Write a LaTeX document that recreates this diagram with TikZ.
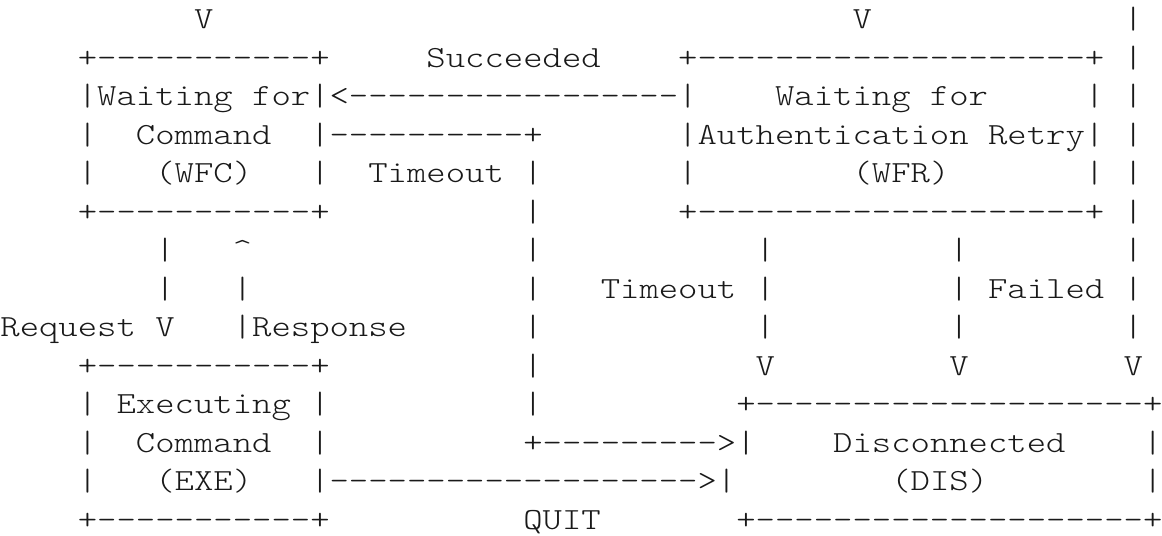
\documentclass[tikz,border=0pt]{standalone}
\usepackage{fontspec}
\usepackage{graphicx}
\usepackage{tikz}

\newfontfamily\asciilight{lmmonolt10-regular.otf}
\newcommand{\asciifont}{\fontsize{15.38pt}{18pt}\asciilight\selectfont}

\begin{document}
\begin{tikzpicture}[x=9.69pt, y=-19.25pt]
\tikzstyle{ascii} = [anchor=base west, inner sep=0pt, yshift=-14.5pt, text=black!90, font=\asciifont]
\useasboundingbox (0,0) rectangle (60,13.906);
  % rows of the state chart, one node per piece of text: row/column/text
  \foreach \r/\c/\t in {
      0/10/V, 0/44/V, 0/58/|,
      1/4/+-----------+, 1/22/Succeeded, 1/35/+--------------------+, 1/58/|,
      2/4/|Waiting for|<-----------------|, 2/40/Waiting for, 2/56/|, 2/58/|,
      3/4/|, 3/7/Command, 3/16/|----------+, 3/35/|Authentication Retry|, 3/58/|,
      4/4/|, 4/8/{(WFC)}, 4/16/|, 4/19/Timeout, 4/27/|, 4/35/|, 4/44/{(WFR)}, 4/56/|, 4/58/|,
      5/4/+-----------+, 5/27/|, 5/35/+--------------------+, 5/58/|,
      6/8/|, 6/12/\textasciicircum, 6/27/|, 6/39/|, 6/49/|, 6/58/|,
      7/8/|, 7/12/|, 7/27/|, 7/31/Timeout, 7/39/|, 7/49/|, 7/51/Failed, 7/58/|,
      8/0/Request, 8/8/V, 8/12/|Response, 8/27/|, 8/39/|, 8/49/|, 8/58/|,
      9/4/+-----------+, 9/27/|, 9/39/V, 9/49/V, 9/58/V,
      10/4/|, 10/6/Executing, 10/16/|, 10/27/|, 10/38/+--------------------+,
      11/4/|, 11/7/Command, 11/16/|, 11/27/+--------->|, 11/43/Disconnected, 11/59/|,
      12/4/|, 12/8/{(EXE)}, 12/16/|------------------->|, 12/46/{(DIS)}, 12/59/|,
      13/4/+-----------+, 13/27/QUIT, 13/38/+--------------------+}
    \node[ascii] (t\r-\c) at (\c,\r) {\scalebox{1.2}[1]{\t}};
\end{tikzpicture}
\end{document}
